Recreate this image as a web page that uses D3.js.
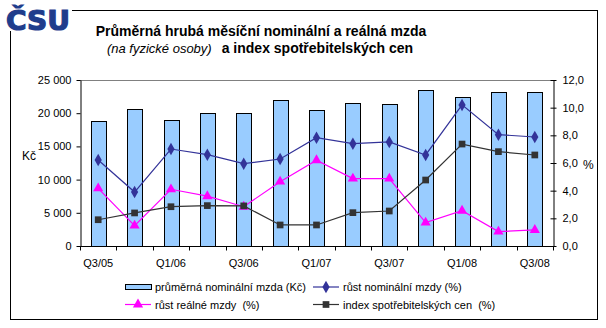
<!DOCTYPE html>
<html><head><meta charset="utf-8">
<script src="https://cdn.jsdelivr.net/npm/d3@7"></script>
<style>body{margin:0;background:#fff}svg text{font-family:"Liberation Sans",Arial,sans-serif}</style>
</head><body><svg id="c" width="606" height="328"></svg>
<script>
const categories = ["Q3/05","Q4/05","Q1/06","Q2/06","Q3/06","Q4/06","Q1/07","Q2/07","Q3/07","Q4/07","Q1/08","Q2/08","Q3/08"];
const wage = [18780,20590,18930,19980,19960,21990,20430,21490,21340,23450,22390,23150,23150];
const nominalGrowth = [6.22,3.9,7.01,6.6,5.95,6.29,7.83,7.4,7.52,6.58,10.2,8.05,7.88];
const realGrowth = [4.17,1.47,4.1,3.6,2.84,4.65,6.2,4.87,4.87,1.69,2.55,1.04,1.16];
const cpi = [1.9,2.39,2.84,2.92,2.9,1.52,1.52,2.41,2.53,4.77,7.37,6.82,6.58];
const leftTicks = [0,5000,10000,15000,20000,25000];
const rightTicks = [0,2,4,6,8,10,12];
const xLabels = ["Q3/05","Q1/06","Q3/06","Q1/07","Q3/07","Q1/08","Q3/08"];

const svg = d3.select("#c");
const L=80,R=553,T=80,B=246;
const x = d3.scaleBand().domain(categories).range([L,R]).padding(0);
const yL = d3.scaleLinear().domain([0,25000]).range([B,T]);
const yR = d3.scaleLinear().domain([0,12]).range([B,T]);
const cx = c => x(c)+x.bandwidth()/2;

// frame
svg.append("rect").attr("x",10.5).attr("y",10.5).attr("width",587).attr("height",309).attr("fill","none").attr("stroke","#000");
// logo
svg.append("rect").attr("x",0).attr("y",0).attr("width",72).attr("height",31).attr("fill","#fff");
svg.append("text").attr("x",38).attr("y",30).attr("text-anchor","middle")
  .style("font-family","'DejaVu Sans'").attr("font-weight","bold").attr("font-size",27)
  .attr("fill","#1f3d8c").attr("stroke","#1f3d8c").attr("stroke-width",1.2)
  .attr("textLength",64).attr("lengthAdjust","spacingAndGlyphs").text("ČSU");

// title
svg.append("text").attr("x",261).attr("y",36).attr("text-anchor","middle").attr("font-weight","bold").attr("font-size",14)
  .text("Průměrná hrubá měsíční nominální a reálná mzda");
const t2 = svg.append("text").attr("x",260).attr("y",53).attr("text-anchor","middle").attr("font-size",14);
t2.append("tspan").attr("font-style","italic").attr("font-size",13).text("(na fyzické osoby)");
t2.append("tspan").attr("dx",10).attr("font-weight","bold").text("a index spotřebitelských cen");

// top gridline
svg.append("line").attr("x1",L).attr("x2",R).attr("y1",yL(25000)+0.5).attr("y2",yL(25000)+0.5).attr("stroke","#808080");

// bars
const bw = x.bandwidth()*0.41;
svg.append("g").selectAll("rect").data(categories).join("rect")
  .attr("x",(c)=>Math.round(cx(c)-bw/2)+0.5).attr("y",(c,i)=>Math.round(yL(wage[i]))+0.5)
  .attr("width",Math.round(bw)).attr("height",(c,i)=>B-Math.round(yL(wage[i])))
  .attr("fill","#99ccff").attr("stroke","#000");

// axes
const fmtL = d => d3.format(",")(d).replace(/,/g," ");
const gl = svg.append("g").attr("transform",`translate(${L+0.5},0)`)
  .call(d3.axisLeft(yL).tickValues(leftTicks).tickSize(4).tickSizeOuter(0).tickFormat(fmtL).tickPadding(5));
const gr = svg.append("g").attr("transform",`translate(${R+0.5},0)`)
  .call(d3.axisRight(yR).tickValues(rightTicks).tickSize(3).tickSizeOuter(0).tickFormat(d=>d3.format(".1f")(d).replace(".",",")).tickPadding(6));
gr.selectAll(".tick line").attr("x1",-3);
// x axis
const gx = svg.append("g").attr("transform",`translate(0,${B+0.5})`);
gx.append("line").attr("x1",L).attr("x2",R+1).attr("stroke","#000");
gx.selectAll("line.t").data(categories.concat([null])).join("line").attr("class","t")
  .attr("x1",(c,i)=>Math.round(i<categories.length?x(c):R)+0.5).attr("x2",(c,i)=>Math.round(i<categories.length?x(c):R)+0.5)
  .attr("y1",0).attr("y2",4).attr("stroke","#000");
gx.selectAll("text").data(xLabels).join("text").attr("x",d=>cx(d)).attr("y",20).attr("text-anchor","middle").attr("font-size",11).text(d=>d);
[gl,gr].forEach(g=>{g.selectAll("text").attr("font-size",11).attr("fill","#000").style("font-family","'Liberation Sans',Arial");g.selectAll("line,path").attr("stroke","#000");g.attr("font-family",null)});

svg.append("text").attr("x",22).attr("y",160).attr("font-size",12).text("Kč");
svg.append("text").attr("x",583).attr("y",169).attr("font-size",12).text("%");

// lines
const line = arr => d3.line().x((d,i)=>cx(categories[i])).y(d=>yR(d))(arr);
function series(arr,color,shape,size){
  svg.append("path").attr("d",line(arr)).attr("fill","none").attr("stroke",color).attr("stroke-width",1.2);
  svg.append("g").selectAll("path").data(arr).join("path")
    .attr("d",d3.symbol().type(shape).size(size)).attr("transform",(d,i)=>`translate(${cx(categories[i])},${yR(d)})`).attr("fill",color);
}
series(nominalGrowth,"#333399",d3.symbolDiamond,45);
series(realGrowth,"#ff00ff",d3.symbolTriangle,45);
series(cpi,"#333333",d3.symbolSquare,45);

// legend
const lg = svg.append("g").attr("font-size",11);
lg.append("rect").attr("x",125.5).attr("y",284.5).attr("width",26).attr("height",5).attr("fill","#99ccff").attr("stroke","#000");
lg.append("text").attr("x",155).attr("y",291).text("průměrná nominální mzda (Kč)");
function legLine(x0,y0,color,shape,size,label){
  lg.append("line").attr("x1",x0).attr("x2",x0+26).attr("y1",y0).attr("y2",y0).attr("stroke",color).attr("stroke-width",1.2);
  lg.append("path").attr("d",d3.symbol().type(shape).size(size)).attr("transform",`translate(${x0+13},${y0})`).attr("fill",color);
  lg.append("text").attr("x",x0+30).attr("y",y0+4).text(label);
}
legLine(313,287,"#333399",d3.symbolDiamond,45,"růst nominální mzdy (%)");
legLine(125,304.5,"#ff00ff",d3.symbolTriangle,45,"růst reálné mzdy  (%)");
legLine(313,304.5,"#333333",d3.symbolSquare,45,"index spotřebitelských cen  (%)");
lg.selectAll("text").style("white-space","pre");
</script></body></html>
